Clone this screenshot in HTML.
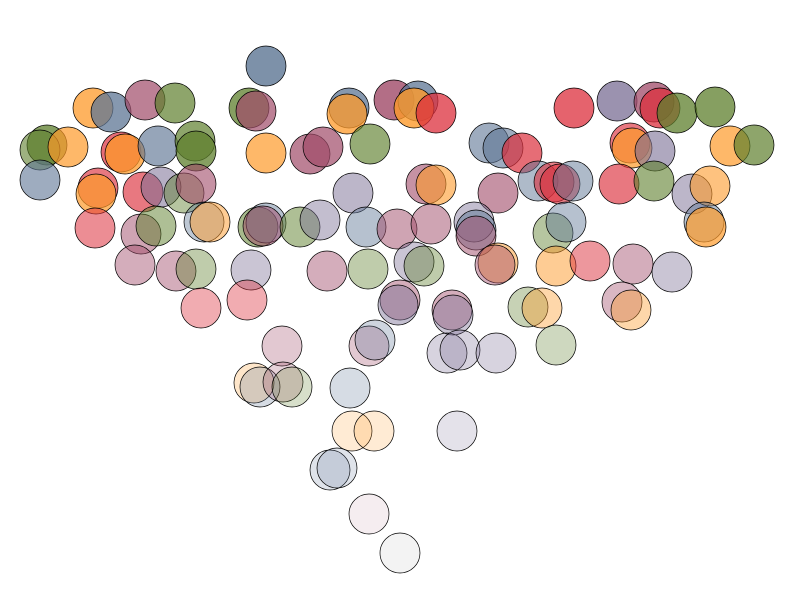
<!DOCTYPE html>
<html><head><meta charset="utf-8"><style>
html,body{margin:0;padding:0;background:#fff;width:800px;height:600px;overflow:hidden}
svg{display:block}
</style></head><body>
<svg id="chart" width="800" height="600" viewBox="0 0 800 600" xmlns="http://www.w3.org/2000/svg"></svg>
<script>
const xs=[266,
93,111,145,175,249,256,349,347,394,418,414,436,574,617,654,660,677,715,
47,40,68,121,125,158,195,196,266,310,323,370,489,503,522,630,632,655,730,754,
40,98,96,143,161,184,196,353,426,436,498,538,554,560,573,619,654,692,710,
95,141,156,204,210,258,266,263,300,320,366,397,431,474,476,476,553,566,704,706,
135,176,196,251,327,368,414,424,498,495,556,590,633,672,
201,247,400,398,452,453,528,542,622,631,
282,369,375,447,460,496,556,
254,260,283,292,350,
352,374,457,
330,337,369,400];
const ys=[66,
108,112,100,103,108,111,108,114,100,101,108,113,108,101,102,108,113,107,
145,150,147,152,154,146,141,151,153,154,147,144,143,148,153,143,148,151,146,145,
180,188,194,192,187,193,184,193,184,185,193,181,182,184,181,184,181,194,186,
228,234,226,222,222,227,223,226,227,220,227,229,224,222,230,236,233,222,222,227,
265,271,269,270,271,269,262,266,263,265,266,261,264,272,
308,300,300,305,310,315,307,308,302,310,
346,346,340,353,350,353,345,
383,387,382,387,388,
431,431,431,
470,468,514,553];
const cats=["slate",
"orange","slate","mauve","olive","olive","mauve","slate","orange","mauve","slate","orange","red","red","purple","mauve","red","olive","olive",
"olive","olive","orange","red","orange","slate","olive","olive","orange","mauve","mauve","olive","slate","slate","red","red","orange","purple","orange","olive",
"slate","red","orange","red","purple","olive","mauve","purple","mauve","orange","mauve","slate","red","red","slate","red","olive","purple","orange",
"red","mauve","olive","slate","orange","olive","slate","mauve","olive","purple","slate","mauve","mauve","purple","slate","mauve","olive","slate","slate","orange",
"mauve","mauve","olive","purple","mauve","olive","purple","olive","orange","mauve","orange","red","mauve","purple",
"red","red","mauve","purple","mauve","purple","olive","orange","mauve","orange",
"mauve","mauve","slate","purple","purple","purple","olive",
"orange","slate","mauve","olive","slate",
"orange","orange","purple",
"slate","slate","mauve","grey"];
const alphas=[0.8,
0.75,0.75,0.7,0.7,0.75,0.7,0.75,0.75,0.8,0.75,0.8,0.75,0.75,0.75,0.75,0.75,0.75,0.75,
0.75,0.6,0.7,0.7,0.75,0.65,0.7,0.75,0.7,0.7,0.7,0.65,0.6,0.6,0.7,0.65,0.7,0.6,0.7,0.7,
0.6,0.65,0.7,0.65,0.55,0.45,0.6,0.5,0.6,0.6,0.6,0.5,0.6,0.6,0.5,0.65,0.6,0.5,0.6,
0.55,0.5,0.5,0.4,0.5,0.55,0.45,0.5,0.5,0.45,0.45,0.5,0.5,0.45,0.5,0.5,0.45,0.45,0.45,0.7,
0.45,0.45,0.4,0.4,0.45,0.4,0.4,0.4,0.5,0.45,0.5,0.5,0.45,0.4,
0.4,0.4,0.45,0.45,0.45,0.4,0.35,0.4,0.4,0.4,
0.3,0.3,0.3,0.3,0.3,0.3,0.3,
0.25,0.25,0.25,0.25,0.25,
0.2,0.2,0.2,
0.2,0.2,0.1,0.12];
const palette={slate:"#5d7594",orange:"#fd9a2a",mauve:"#a04a68",olive:"#5e7f2c",red:"#dc2f3c",purple:"#7a6e94",grey:"#999999"};
const W=800,H=600;
const xScale=v=>v*W/800;
const yScale=v=>v*H/600;
const R=20;
const svg=document.getElementById('chart');
const NS="http://www.w3.org/2000/svg";
for(let i=0;i<xs.length;i++){
  const c=document.createElementNS(NS,'circle');
  c.setAttribute('cx',xScale(xs[i]));
  c.setAttribute('cy',yScale(ys[i]));
  c.setAttribute('r',R);
  c.setAttribute('fill',palette[cats[i]]);
  c.setAttribute('fill-opacity',alphas[i]);
  c.setAttribute('stroke','#000');
  c.setAttribute('stroke-width','0.7');
  
  
  svg.appendChild(c);
}
</script>
</body></html>
